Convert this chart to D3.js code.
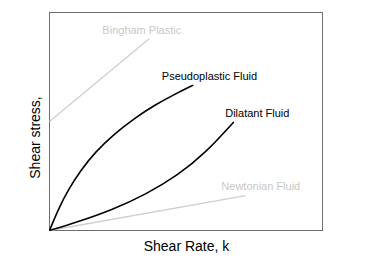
<!DOCTYPE html>
<html><head><meta charset="utf-8">
<script src="https://cdn.jsdelivr.net/npm/d3@7"></script>
<style>html,body{margin:0;padding:0;background:#fff;}</style>
</head><body>
<svg id="c" width="369" height="265"></svg>
<script>
const pseudoX = [0, 3.1, 6.8, 11.6, 16.6, 24.0, 31.3, 38.6, 46.0, 52.7];
const pseudoY = [0, 9.4, 18.6, 27.8, 35.8, 44.6, 51.6, 57.6, 62.6, 66.7];
const dilatantX = [0, 10.5, 22.8, 35.0, 47.2, 57.0, 67.5];
const dilatantY = [0, 4.0, 9.4, 16.3, 25.5, 35.4, 49.8];
const binghamX = [0, 36.5];
const binghamY = [50.0, 88.0];
const newtonX = [0, 71.8];
const newtonY = [0, 16.0];
const labels = ["Bingham Plastic", "Pseudoplastic Fluid", "Dilatant Fluid", "Newtonian Fluid"];
const xTitle = "Shear Rate, k";
const yTitle = "Shear stress,";

const svg = d3.select("#c");
const L = 49.5, T = 12.5, R = 322.5, B = 230.5;
const x = d3.scaleLinear().domain([0, 100]).range([L, R]);
const y = d3.scaleLinear().domain([0, 100]).range([B, T]);
const font = "Liberation Sans, Arial, sans-serif";

svg.append("rect").attr("x", L).attr("y", T).attr("width", R - L).attr("height", B - T)
  .attr("fill", "none").attr("stroke", "#6e6e6e").attr("stroke-width", 1);

function pts(xs, ys) { return xs.map((v, i) => [v, ys[i]]); }
const lineC = d3.line().x(d => x(d[0])).y(d => y(d[1])).curve(d3.curveBasis);
const lineS = d3.line().x(d => x(d[0])).y(d => y(d[1]));

svg.append("path").attr("d", lineS(pts(binghamX, binghamY))).attr("fill", "none")
  .attr("stroke", "#cfcfcf").attr("stroke-width", 1.3);
svg.append("path").attr("d", lineS(pts(newtonX, newtonY))).attr("fill", "none")
  .attr("stroke", "#cfcfcf").attr("stroke-width", 1.3);
svg.append("path").attr("d", lineC(pts(pseudoX, pseudoY))).attr("fill", "none")
  .attr("stroke", "#000").attr("stroke-width", 1.6);
svg.append("path").attr("d", lineC(pts(dilatantX, dilatantY))).attr("fill", "none")
  .attr("stroke", "#000").attr("stroke-width", 1.6);

const lab = [
  {t: labels[0], px: 141.8, py: 33.5, c: "#c8c8c8"},
  {t: labels[1], px: 209.5, py: 80, c: "#000"},
  {t: labels[2], px: 257.3, py: 116.5, c: "#000"},
  {t: labels[3], px: 260.8, py: 189.5, c: "#c8c8c8"}
];
svg.selectAll("text.lab").data(lab).enter().append("text").attr("class", "lab")
  .attr("x", d => d.px).attr("y", d => d.py).attr("text-anchor", "middle")
  .attr("font-family", font).attr("font-size", 11).attr("fill", d => d.c).text(d => d.t);

svg.append("text").attr("x", 186.5).attr("y", 250.5).attr("text-anchor", "middle")
  .attr("font-family", font).attr("font-size", 14).attr("fill", "#000").text(xTitle);
svg.append("text").attr("transform", "translate(39.5,137.5) rotate(-90)").attr("text-anchor", "middle")
  .attr("font-family", font).attr("font-size", 14).attr("fill", "#000").text(yTitle);
</script>
</body></html>
